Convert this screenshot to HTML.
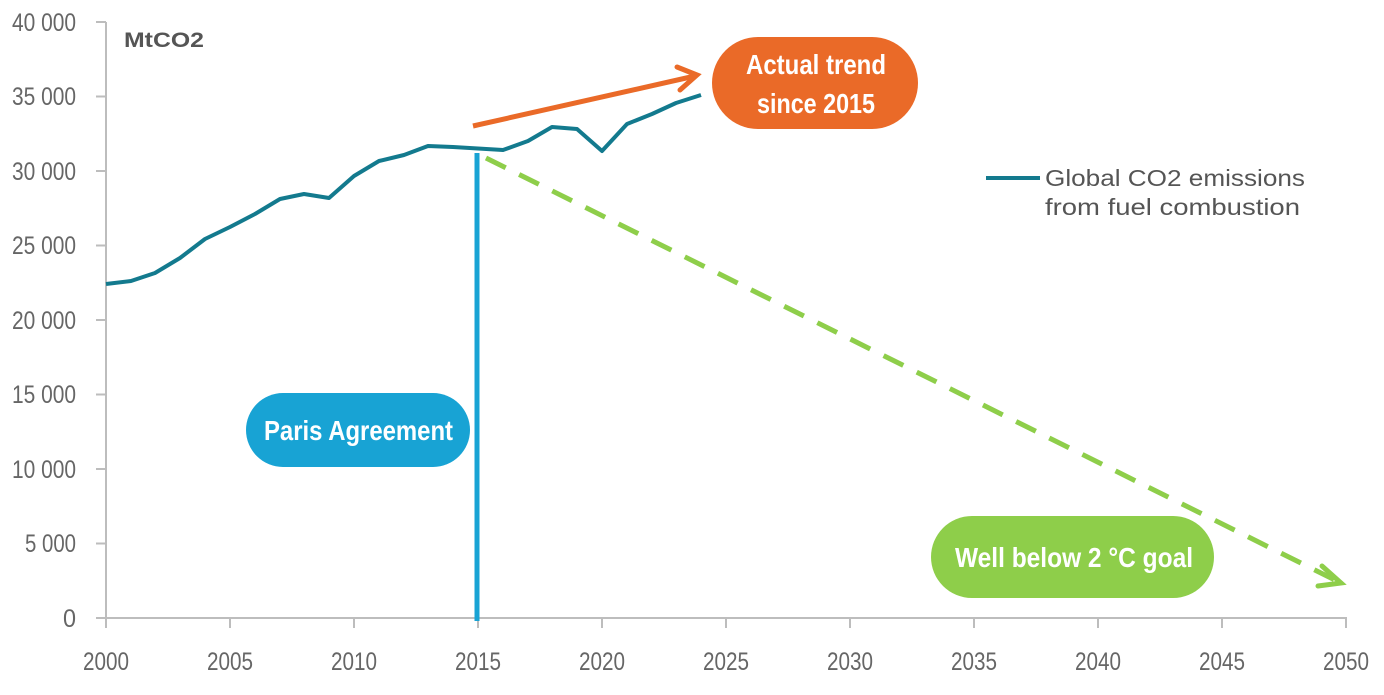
<!DOCTYPE html>
<html><head><meta charset="utf-8"><style>
body{margin:0;background:#fff;}
svg text{font-family:"Liberation Sans",sans-serif;}
</style></head><body>
<svg width="1384" height="690" viewBox="0 0 1384 690" xmlns="http://www.w3.org/2000/svg">
<g stroke="#bdbdbd" stroke-width="2" fill="none">
<line x1="106" y1="22" x2="106" y2="618"/>
<line x1="106" y1="618" x2="1347" y2="618"/>
<line x1="96" y1="22" x2="106" y2="22"/>
<line x1="96" y1="96.5" x2="106" y2="96.5"/>
<line x1="96" y1="171" x2="106" y2="171"/>
<line x1="96" y1="245.5" x2="106" y2="245.5"/>
<line x1="96" y1="320" x2="106" y2="320"/>
<line x1="96" y1="394.5" x2="106" y2="394.5"/>
<line x1="96" y1="469" x2="106" y2="469"/>
<line x1="96" y1="543.5" x2="106" y2="543.5"/>
<line x1="96" y1="618" x2="106" y2="618"/>
<line x1="106" y1="618" x2="106" y2="628"/><line x1="230" y1="618" x2="230" y2="628"/><line x1="354" y1="618" x2="354" y2="628"/><line x1="478" y1="618" x2="478" y2="628"/><line x1="602" y1="618" x2="602" y2="628"/><line x1="726" y1="618" x2="726" y2="628"/><line x1="850" y1="618" x2="850" y2="628"/><line x1="974" y1="618" x2="974" y2="628"/><line x1="1098" y1="618" x2="1098" y2="628"/><line x1="1222" y1="618" x2="1222" y2="628"/><line x1="1346" y1="618" x2="1346" y2="628"/>
</g>
<g fill="#666" font-size="25" lengthAdjust="spacingAndGlyphs">
<text x="12" y="31" textLength="64" lengthAdjust="spacingAndGlyphs">40 000</text>
<text x="12" y="105" textLength="64" lengthAdjust="spacingAndGlyphs">35 000</text>
<text x="12" y="180" textLength="64" lengthAdjust="spacingAndGlyphs">30 000</text>
<text x="12" y="254" textLength="64" lengthAdjust="spacingAndGlyphs">25 000</text>
<text x="12" y="329" textLength="64" lengthAdjust="spacingAndGlyphs">20 000</text>
<text x="12" y="403" textLength="64" lengthAdjust="spacingAndGlyphs">15 000</text>
<text x="12" y="478" textLength="64" lengthAdjust="spacingAndGlyphs">10 000</text>
<text x="25" y="552" textLength="51" lengthAdjust="spacingAndGlyphs">5 000</text>
<text x="63" y="627" textLength="13" lengthAdjust="spacingAndGlyphs">0</text>
</g>
<g fill="#666" font-size="25">
<text x="83" y="670" textLength="46" lengthAdjust="spacingAndGlyphs">2000</text>
<text x="207" y="670" textLength="46" lengthAdjust="spacingAndGlyphs">2005</text>
<text x="331" y="670" textLength="46" lengthAdjust="spacingAndGlyphs">2010</text>
<text x="455" y="670" textLength="46" lengthAdjust="spacingAndGlyphs">2015</text>
<text x="579" y="670" textLength="46" lengthAdjust="spacingAndGlyphs">2020</text>
<text x="703" y="670" textLength="46" lengthAdjust="spacingAndGlyphs">2025</text>
<text x="827" y="670" textLength="46" lengthAdjust="spacingAndGlyphs">2030</text>
<text x="951" y="670" textLength="46" lengthAdjust="spacingAndGlyphs">2035</text>
<text x="1075" y="670" textLength="46" lengthAdjust="spacingAndGlyphs">2040</text>
<text x="1199" y="670" textLength="46" lengthAdjust="spacingAndGlyphs">2045</text>
<text x="1323" y="670" textLength="46" lengthAdjust="spacingAndGlyphs">2050</text>
</g>
<text x="124" y="47" font-size="21" font-weight="bold" fill="#555" textLength="80" lengthAdjust="spacingAndGlyphs">MtCO2</text>
<polyline fill="none" stroke="#137a8e" stroke-width="4" stroke-linejoin="round" points="106,284 131,281 155,273 180,258 205,239 230,227 255,214 280,199 304,194 329,198 354,176 379,161 404,155 428,146 453,147 478,148.5 503,150 528,141 552,127 577,129 602,151 627,124 652,114 676,103 701,95"/>
<line x1="477" y1="153" x2="477" y2="621" stroke="#18a3d4" stroke-width="5"/>
<line x1="486" y1="158" x2="1335" y2="580" stroke="#8ece4a" stroke-width="5" stroke-dasharray="22,15"/>
<polyline points="1322,566 1341,583 1318,586" fill="none" stroke="#8ece4a" stroke-width="5" stroke-linecap="round"/>
<line x1="473" y1="126" x2="695" y2="76" stroke="#ea6a28" stroke-width="5"/>
<polyline points="677,67 697,75 680,90" fill="none" stroke="#ea6a28" stroke-width="5" stroke-linecap="round"/>
<rect x="246" y="393" width="224" height="74" rx="37" fill="#18a3d4"/>
<text x="264" y="440" font-size="28" font-weight="bold" fill="#fff" textLength="189" lengthAdjust="spacingAndGlyphs">Paris Agreement</text>
<rect x="712" y="37" width="206" height="92" rx="46" fill="#ea6a28"/>
<text x="746" y="74" font-size="28" font-weight="bold" fill="#fff" textLength="140" lengthAdjust="spacingAndGlyphs">Actual trend</text>
<text x="757" y="113" font-size="28" font-weight="bold" fill="#fff" textLength="118" lengthAdjust="spacingAndGlyphs">since 2015</text>
<rect x="931" y="516" width="283" height="82" rx="41" fill="#8ece4a"/>
<text x="955" y="567" font-size="28" font-weight="bold" fill="#fff" textLength="238" lengthAdjust="spacingAndGlyphs">Well below 2 °C goal</text>
<line x1="986" y1="178" x2="1040" y2="178" stroke="#137a8e" stroke-width="4"/>
<g fill="#555" font-size="23">
<text x="1045" y="186" textLength="260" lengthAdjust="spacingAndGlyphs">Global CO2 emissions</text>
<text x="1045" y="215" textLength="255" lengthAdjust="spacingAndGlyphs">from fuel combustion</text>
</g>
</svg>
</body></html>
